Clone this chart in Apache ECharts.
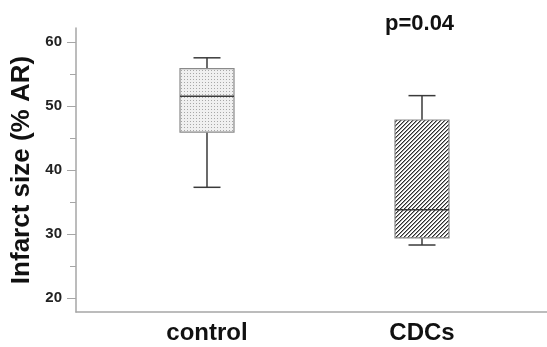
<!DOCTYPE html>
<html>
<head>
<meta charset="utf-8">
<script src="https://cdn.jsdelivr.net/npm/echarts@6/dist/echarts.min.js"></script>
<style>
html,body{margin:0;padding:0;background:#fff;}
#chart{width:547px;height:347px;}
</style>
</head>
<body>
<div id="chart"></div>
<script>
// ---- data ----
const categories = ['control', 'CDCs'];
const whiskerLow = [37.3, 28.3];
const quartile1 = [45.9, 29.4];
const medians = [51.5, 33.8];
const quartile3 = [55.8, 47.8];
const whiskerHigh = [57.5, 51.6];
const majorTicks = [20, 30, 40, 50, 60];
const minorTicks = [25, 35, 45, 55];
const pLabel = 'p=0.04';

// ---- fill patterns ----
function makeDots() {
  const c = document.createElement('canvas');
  c.width = 3; c.height = 3;
  const g = c.getContext('2d');
  g.fillStyle = '#f0f0f0'; g.fillRect(0, 0, 3, 3);
  g.fillStyle = '#a8a8a8'; g.fillRect(1, 1, 1, 1);
  return c;
}
function makeHatch() {
  const n = 4;
  const c = document.createElement('canvas');
  c.width = n; c.height = n;
  const g = c.getContext('2d');
  const img = g.createImageData(n, n);
  for (let y = 0; y < n; y++) for (let x = 0; x < n; x++) {
    const d = (x + y) % n;
    let v = 255;
    if (d === 0) v = 45; else if (d === 1) v = 150;
    const k = (y * n + x) * 4;
    img.data[k] = v; img.data[k + 1] = v; img.data[k + 2] = v; img.data[k + 3] = 255;
  }
  g.putImageData(img, 0, 0);
  return c;
}
const patterns = [
  { image: makeDots(), repeat: 'repeat' },
  { image: makeHatch(), repeat: 'repeat' }
];

const boxData = categories.map((c, i) => [i + 1, whiskerLow[i], quartile1[i], medians[i], quartile3[i], whiskerHigh[i]]);
const BOX_W = 0.2512;

const chart = echarts.init(document.getElementById('chart'), null, { renderer: 'canvas' });
const Y_MIN = 17.85, Y_MAX = 62.15;
const axisGray = '#a6a6a6';

chart.setOption({
  animation: false,
  title: {
    text: pLabel, left: 385, top: 13, padding: 0,
    textStyle: { fontFamily: 'Liberation Sans, Arial', fontWeight: 'bold', fontSize: 22, color: '#111' }
  },
  grid: { left: 76, right: 0, top: 28, bottom: 35 },
  xAxis: {
    type: 'value', min: 0.3907, max: 2.5814,
    splitLine: { show: false },
    axisLine: { show: true, lineStyle: { color: axisGray, width: 1.5 } },
    axisTick: { show: false },
    axisLabel: {
      customValues: [1, 2],
      formatter: v => categories[Math.round(v) - 1],
      fontFamily: 'Liberation Sans, Arial', fontWeight: 'bold', fontSize: 24, color: '#111', margin: 9
    }
  },
  yAxis: [{
    type: 'value', min: Y_MIN, max: Y_MAX,
    name: 'Infarct size (% AR)', nameLocation: 'middle', nameGap: 39, nameRotate: 90,
    nameTextStyle: { fontFamily: 'Liberation Sans, Arial', fontWeight: 'bold', fontSize: 26, color: '#111' },
    splitLine: { show: false },
    axisLine: { show: true, lineStyle: { color: axisGray, width: 1.5 } },
    axisTick: { show: true, customValues: majorTicks, length: 9, lineStyle: { color: axisGray } },
    axisLabel: {
      customValues: majorTicks, margin: 14,
      fontFamily: 'Liberation Sans, Arial', fontWeight: 'bold', fontSize: 15, color: '#222'
    }
  }, {
    type: 'value', min: Y_MIN, max: Y_MAX, position: 'left',
    splitLine: { show: false },
    axisLine: { show: false },
    axisTick: { show: true, customValues: minorTicks, length: 6, lineStyle: { color: axisGray } },
    axisLabel: { show: false }
  }],
  series: [{
    type: 'custom',
    data: boxData,
    renderItem: function (params, api) {
      const x = api.value(0);
      const lo = api.coord([x, api.value(1)]);
      const q1 = api.coord([x, api.value(2)]);
      const md = api.coord([x, api.value(3)]);
      const q3 = api.coord([x, api.value(4)]);
      const hi = api.coord([x, api.value(5)]);
      const w = api.size([BOX_W, 0])[0];
      const cx = lo[0];
      const idx = params.dataIndex;
      const lineStyle = { stroke: '#3a3a3a', lineWidth: 1.5 };
      return {
        type: 'group',
        children: [
          { type: 'line', shape: { x1: cx, y1: hi[1], x2: cx, y2: q3[1] }, style: lineStyle },
          { type: 'line', shape: { x1: cx, y1: q1[1], x2: cx, y2: lo[1] }, style: lineStyle },
          { type: 'line', shape: { x1: cx - w / 4, y1: hi[1], x2: cx + w / 4, y2: hi[1] }, style: lineStyle },
          { type: 'line', shape: { x1: cx - w / 4, y1: lo[1], x2: cx + w / 4, y2: lo[1] }, style: lineStyle },
          { type: 'rect', shape: { x: cx - w / 2, y: q3[1], width: w, height: q1[1] - q3[1] },
            style: { fill: patterns[idx], stroke: '#8a8a8a', lineWidth: 1.2 } },
          { type: 'line', shape: { x1: cx - w / 2, y1: md[1], x2: cx + w / 2, y2: md[1] },
            style: { stroke: '#3a3a3a', lineWidth: 1.6 } }
        ]
      };
    }
  }]
});
</script>
</body>
</html>
